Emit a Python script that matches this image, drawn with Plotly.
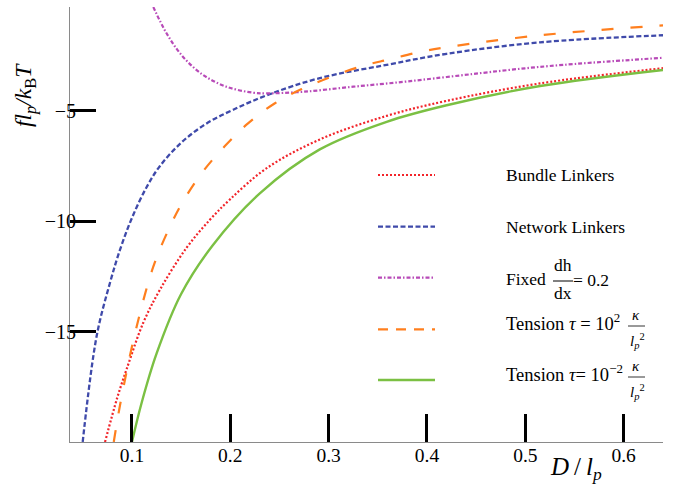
import plotly.graph_objects as go

# ---------------- data ----------------
bundle_x = [0.0726, 0.085, 0.0946, 0.1115, 0.1285, 0.1556, 0.179, 0.2, 0.237, 0.291, 0.359, 0.42, 0.515, 0.64]
bundle_y = [-20, -18.0, -16.7, -14.6, -13.1, -11.2, -9.95, -9.0, -7.6, -6.3, -5.23, -4.55, -3.76, -3.07]

network_x = [0.0499, 0.0641, 0.0776, 0.0878, 0.100, 0.115, 0.1285, 0.15, 0.175, 0.203, 0.24, 0.291, 0.359, 0.42, 0.515, 0.64]
network_y = [-20, -15.2, -12.8, -11.3, -9.85, -8.45, -7.5, -6.45, -5.6, -4.95, -4.25, -3.52, -2.92, -2.42, -1.9, -1.58]

fixed_x = [0.1217, 0.1353, 0.152, 0.1725, 0.196, 0.223, 0.237, 0.274, 0.325, 0.376, 0.42, 0.515, 0.64]
fixed_y = [-0.3, -1.5, -2.56, -3.38, -3.91, -4.18, -4.21, -4.14, -3.91, -3.69, -3.47, -3.01, -2.6]

tens_hi_x = [0.0815, 0.088, 0.103, 0.1217, 0.1386, 0.152, 0.172, 0.1945, 0.218, 0.245, 0.272, 0.301, 0.335, 0.362, 0.393, 0.42, 0.515, 0.64]
tens_hi_y = [-20, -18.3, -15.1, -12.06, -10.25, -9.1, -7.76, -6.6, -5.57, -4.67, -4.03, -3.49, -2.96, -2.67, -2.33, -2.12, -1.58, -1.13]

tens_lo_x = [0.100, 0.110, 0.125, 0.15, 0.182, 0.23, 0.291, 0.359, 0.42, 0.515, 0.64]
tens_lo_y = [-20, -18.2, -16.0, -13.3, -11.1, -8.74, -6.75, -5.5, -4.75, -3.88, -3.15]

x_ticks = [0.1, 0.2, 0.3, 0.4, 0.5, 0.6]
x_ticklabels = ["0.1", "0.2", "0.3", "0.4", "0.5", "0.6"]
y_ticks = [-15, -10, -5]
y_ticklabels = ["\u221215", "\u221210", "\u22125"]

RED = "#F2242A"
BLUE = "#3F4AAA"
MAGENTA = "#B84AB8"
ORANGE = "#FF7F1E"
GREEN = "#7BC043"

SERIF = "Liberation Serif"

series = [
    (bundle_x, bundle_y, RED, "2px,2px", 2.2),
    (network_x, network_y, BLUE, "5px,2.5px", 2.3),
    (fixed_x, fixed_y, MAGENTA, "4px,2px,1.5px,2px", 2.2),
    (tens_hi_x, tens_hi_y, ORANGE, "12px,17px", 2.2),
    (tens_lo_x, tens_lo_y, GREEN, "solid", 2.4),
]

fig = go.Figure()
for xs, ys, col, dash, w in series:
    fig.add_trace(go.Scatter(x=xs, y=ys, mode="lines",
                             line=dict(color=col, width=w, dash=dash, shape="spline", smoothing=1.0),
                             hoverinfo="skip"))

# plot area in pixels: x 70..663, y 7..442
L, R, T, B = 70, 663, 7, 442
def px(xp):
    return (xp - L) / (R - L)
def py(yp):
    return (B - yp) / (B - T)

fig.update_layout(
    width=677, height=488,
    margin=dict(l=L, r=677 - R, t=T, b=488 - B),
    plot_bgcolor="white", paper_bgcolor="white",
    showlegend=False,
    font=dict(family=SERIF, color="black", size=18),
    xaxis=dict(range=[0.037, 0.64], showgrid=False, zeroline=False,
               showline=True, linecolor="#8a8a8a", linewidth=1,
               ticks="inside", ticklen=28, tickwidth=3, tickcolor="black",
               tickvals=x_ticks, ticktext=x_ticklabels, ticklabelstandoff=-4,
               tickfont=dict(family=SERIF, size=19.5, color="black")),
    yaxis=dict(range=[-20, -0.3], showgrid=False, zeroline=False,
               showline=True, linecolor="#8a8a8a", linewidth=1,
               ticks="inside", ticklen=26, tickwidth=3, tickcolor="black",
               tickvals=y_ticks, ticktext=y_ticklabels, ticklabelstandoff=-11,
               tickfont=dict(family=SERIF, size=20, color="black")),
)

ann = []
shapes = []
# axis titles
ann.append(dict(text="<i>fl</i><sub><i>p</i></sub><i>/k</i><sub>B</sub><i>T</i>", textangle=-90,
                x=px(25), y=py(95), xref="paper", yref="paper", showarrow=False,
                xanchor="center", yanchor="middle", font=dict(family=SERIF, size=23.5, color="black")))
ann.append(dict(text="<i>D</i>\u2009/\u2009<i>l</i><sub><i>p</i></sub>",
                x=px(576), y=py(469), xref="paper", yref="paper", showarrow=False,
                xanchor="center", yanchor="middle", font=dict(family=SERIF, size=25, color="black")))

# legend
rows_y = [175, 226.7, 277.7, 329.3, 380]
legend_dash = ["2px,2px", "5px,2.5px", "4px,2px,1.5px,2px", "10px,8px", "solid"]
for (xs, ys, col, dash, w), ry, ld in zip(series, rows_y, legend_dash):
    shapes.append(dict(type="line", xref="paper", yref="paper",
                       x0=px(378), x1=px(435), y0=py(ry), y1=py(ry),
                       line=dict(color=col, width=w, dash=ld)))

LF = dict(family=SERIF, size=17.5, color="black")
def text(t, x, y, xanchor="left", size=None):
    f = dict(LF)
    if size:
        f["size"] = size
    ann.append(dict(text=t, x=px(x), y=py(y), xref="paper", yref="paper", showarrow=False,
                    xanchor=xanchor, yanchor="middle", font=f, borderpad=0))

text("Bundle Linkers", 505, 175)
text("Network Linkers", 505, 227)
# Fixed dh/dx = 0.2
text("Fixed", 505, 279)
text("dh", 563, 265, "center")
text("dx", 563, 293, "center")
shapes.append(dict(type="line", xref="paper", yref="paper", x0=px(553), x1=px(573),
                   y0=py(281), y1=py(281), line=dict(color="black", width=1)))
text("= 0.2", 572, 280)
# Tension 10^2
text("Tension <i>\u03c4</i> = 10<sup>2</sup>", 505, 322, size=18.5)
text("<i>\u03ba</i>", 636, 315, "center", 15)
shapes.append(dict(type="line", xref="paper", yref="paper", x0=px(628), x1=px(645),
                   y0=py(326), y1=py(326), line=dict(color="black", width=0.8)))
text("<i>l</i><sub><i>p</i></sub><sup>2</sup>", 637, 341, "center", 15)
# Tension 10^-2
text("Tension <i>\u03c4</i>= 10<sup>\u22122</sup>", 505, 373, size=18.5)
text("<i>\u03ba</i>", 636, 366, "center", 15)
shapes.append(dict(type="line", xref="paper", yref="paper", x0=px(628), x1=px(645),
                   y0=py(377), y1=py(377), line=dict(color="black", width=0.8)))
text("<i>l</i><sub><i>p</i></sub><sup>2</sup>", 637, 392, "center", 15)

fig.update_layout(annotations=ann, shapes=shapes)
fig.write_html("out.html", config={"displayModeBar": False},
               post_script="document.body.style.margin='0px';document.body.style.overflow='hidden';")
